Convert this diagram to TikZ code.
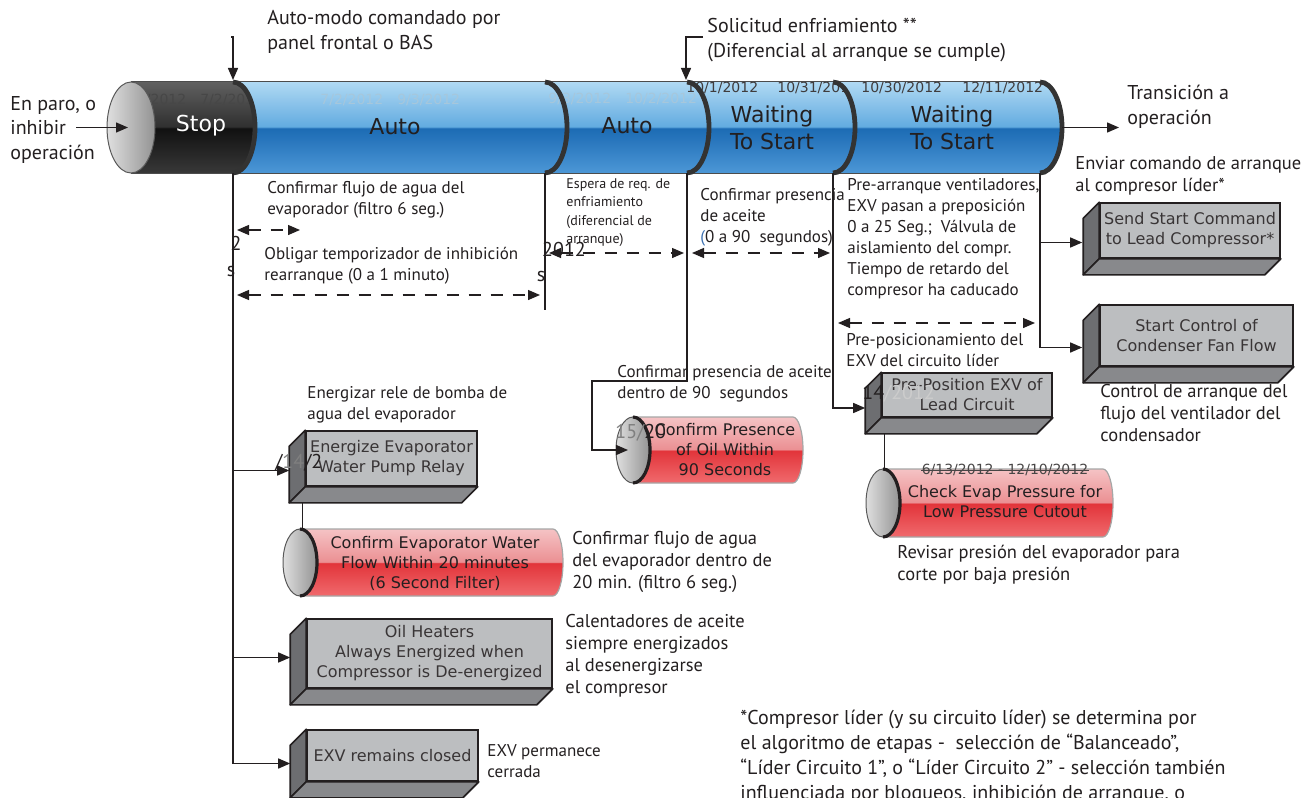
\documentclass[tikz,border=0pt]{standalone}
\usepackage{fontspec}
\setmainfont{PT Sans}
\newfontfamily\boxfont{DejaVu Sans}
\usetikzlibrary{arrows.meta,calc}

\definecolor{ink}{HTML}{231F20}
\definecolor{blA}{HTML}{B0D9F3}
\definecolor{blB}{HTML}{62ABE0}
\definecolor{blC}{HTML}{1C6BB4}
\definecolor{blD}{HTML}{4C97D6}
\definecolor{bkA}{HTML}{606060}
\definecolor{bkB}{HTML}{303030}
\definecolor{bkC}{HTML}{111111}
\definecolor{bkD}{HTML}{383838}
\definecolor{rdA}{HTML}{F5C3C5}
\definecolor{rdB}{HTML}{EB9093}
\definecolor{rdC}{HTML}{E2343A}
\definecolor{rdD}{HTML}{F06A6D}
\definecolor{boxfront}{HTML}{BCBEC0}
\definecolor{boxside}{HTML}{6D6E71}
\definecolor{boxbot}{HTML}{88898C}
\definecolor{parenblue}{HTML}{3A6FB0}

\pgfdeclareverticalshading{tubeblue}{100bp}{color(0bp)=(blD); color(25bp)=(blD); color(49.5bp)=(blC); color(50.5bp)=(blB); color(75bp)=(blA); color(100bp)=(blA)}
\pgfdeclareverticalshading{tubeblack}{100bp}{color(0bp)=(bkD); color(25bp)=(bkD); color(49.5bp)=(bkC); color(50.5bp)=(bkB); color(75bp)=(bkA); color(100bp)=(bkA)}
\pgfdeclareverticalshading{tubered}{100bp}{color(0bp)=(rdD); color(25bp)=(rdD); color(49.5bp)=(rdC); color(50.5bp)=(rdB); color(75bp)=(rdA); color(100bp)=(rdA)}

\newcommand\fbig{\fontsize{10}{12.25}\selectfont}
\newcommand\fmid{\fontsize{8.5}{10.5}\selectfont}
\newcommand\fwide{\fontsize{9.25}{11}\selectfont}
\newcommand\fsmall{\fontsize{7}{9.25}\selectfont}
\newcommand\fnote{\fontsize{10}{12.5}\selectfont}

\tikzset{
  note/.style={anchor=north west, inner sep=0pt, align=left, font=\fmid, text=ink},
  tubetxt/.style={font=\boxfont\fontsize{11}{13.5}\selectfont, align=center, inner sep=0pt, text=ink},
  bevel/.style={draw=ink, line width=0.8pt, fill=boxfront, font=\boxfont\fontsize{8}{10}\selectfont,
    text=ink!90, align=center, inner sep=0pt},
  cyltxt/.style={font=\boxfont\fontsize{8}{10}\selectfont, text=ink, align=center, inner sep=0pt},
  link/.style={draw=ink, line width=0.7pt},
  arr/.style={link, -{Triangle[length=6pt,width=5pt]}},
  span/.style={draw=ink, line width=0.65pt, dash pattern=on 6pt off 5pt,
    {Triangle[length=6pt,width=5pt]}-{Triangle[length=6pt,width=5pt]}},
  date/.style={font=\boxfont\fontsize{7}{8}\selectfont, text=gray!30!ink, inner sep=0pt},
  faint/.style={date, text=blA!80!gray},
  stray/.style={font=\fbig, inner sep=0pt, text=ink}
}

\newcommand\tubeseg[3]{%
  \shade[shading=#3] (#1,82) -- (#2,82) arc[start angle=-90,end angle=90,x radius=22,y radius=45.5]
    -- (#1,173) arc[start angle=90,end angle=-90,x radius=22,y radius=45.5] -- cycle;}

\newcommand\redtube[4]{%
  \pgfmathsetmacro\rry{(#4-#3)/2}
  \shade[shading=tubered, draw=gray!70, line width=0.6pt] (#1,#3) -- (#2-10,#3)
    arc[start angle=-90,end angle=90,x radius=10,y radius=\rry] -- (#1,#4) -- cycle;
  \shade[left color=gray!25, right color=gray!85, draw=gray!70!black, line width=0.5pt]
    (#1,#3+\rry) ellipse[x radius=17,y radius=\rry];
  \draw[line width=1.6pt, ink] (#1,#3) arc[start angle=-90,end angle=90,x radius=17,y radius=\rry];}

\newcommand\bevelfaces[1]{%
  \filldraw[fill=boxside, draw=ink, line width=0.8pt, line join=round] (#1.north west) -- ++(-16,16)
    -- ($(#1.south west)+(-16,16)$) -- (#1.south west) -- cycle;
  \filldraw[fill=boxbot, draw=ink, line width=0.8pt, line join=round] (#1.south west)
    -- ($(#1.south west)+(-16,16)$) -- ($(#1.south east)+(-16,16)$) -- (#1.south east) -- cycle;}

\begin{document}
\begin{tikzpicture}[x=0.5pt, y=-0.5pt]
  \useasboundingbox (0,0) rectangle (1315,797);

  \tubeseg{131}{233}{tubeblack}
  \node[date, text=black!72, anchor=west] (ds) at (123,100) {1/1/2012\quad 7/2/2012};
  \tubeseg{233}{545}{tubeblue}
  \node[faint, anchor=west] (da) at (320,100) {7/2/2012\quad 9/3/2012};
  \tubeseg{545}{687}{tubeblue}
  \node[faint, anchor=west] (db) at (548,99) {9/3/2012\quad 10/2/2012};
  \tubeseg{687}{833}{tubeblue}
  \node[date, anchor=west] (d1) at (686,88) {10/1/2012};
  \node[date, anchor=west] (d2) at (777,88) {10/31/2012};
  \tubeseg{833}{1040}{tubeblue}
  \node[date, anchor=west] (d3) at (861,88) {10/30/2012};
  \node[date, anchor=west] (d4) at (962,88) {12/11/2012};

  \draw[gray!60!black, line width=0.5pt] (131,82) -- (1040,82) (131,173) -- (1040,173);
  \shade[left color=gray!25, right color=gray!85, draw=gray!70!black, line width=0.5pt]
    (131,127.5) ellipse[x radius=24, y radius=45.5];
  \foreach \b in {233,545,687,833,1040}
    \draw[line width=2.4pt, black!80] (\b,82) arc[start angle=-90,end angle=90,x radius=22,y radius=45.5];

  \node[tubetxt, text=white] (stop) at (201,126) {Stop};
  \node[tubetxt] (auto1) at (395,127) {Auto};
  \node[tubetxt] (auto2) at (627,126) {Auto};
  \node[tubetxt] (wait1) at (772,128) {Waiting\\To Start};
  \node[tubetxt] (wait2) at (952,128) {Waiting\\To Start};

  \coordinate (capc) at (128,127.5);
  \coordinate (tubeend) at (1062,127.5);
  \coordinate (b1) at (233,173);
  \coordinate (b2) at (545,173);
  \coordinate (b3) at (687,173);
  \coordinate (b4) at (833,173);
  \coordinate (b5) at (1040,173);
  \coordinate (b2end) at (545,310);
  \coordinate (amtop) at (233,80);
  \coordinate (sotop) at (686,80);

  \node[note, font=\fbig] (enparo) at (10,96) {En paro, o\\inhibir\\operación};
  \node[note, font=\fbig] (automodo) at (267,10) {Auto-modo comandado por\\panel frontal o BAS};
  \node[note, font=\fbig] (solicitud) at (707,18) {Solicitud enfriamiento **\\(Diferencial al arranque se cumple)};
  \node[note, font=\fbig] (transicion) at (1127,85) {Transición a\\operación};
  \coordinate (stopin) at (76,127.5);
  \draw[arr] (stopin) -- (capc);
  \draw[arr] ([xshift=-18]automodo.west |- 0,37) -| (amtop);
  \draw[arr] ([xshift=-2]solicitud.west |- 0,37) -| (sotop);
  \draw[arr] (tubeend) -- ([xshift=-4]transicion.west |- tubeend);

  \node[note] (confflujo) at (267,181) {Confirmar flujo de agua del\\evaporador (filtro 6 seg.)};
  \node[note] (obligar) at (264,247) {Obligar temporizador de inhibición\\rearranque (0 a 1 minuto)};
  \node[note, font=\fsmall] (espera) at (566,178) {Espera de req. de\\enfriamiento\\(diferencial de\\arranque)};
  \node[note] (confpres) at (700,188) {Confirmar presencia\\de aceite\\\textcolor{parenblue}{(}0 a 90~ segundos)};
  \node[note] (prearr) at (847,178) {Pre-arranque ventiladores,\\EXV pasan a preposición\\0 a 25 Seg.;~ Válvula de\\aislamiento del compr.\\Tiempo de retardo del\\compresor ha caducado};
  \node[note] (prepos) at (846,333) {Pre-posicionamiento del\\EXV del circuito líder};
  \node[note, font=\fwide] (enviar) at (1075,156) {Enviar comando de arranque\\al compresor líder*};
  \node[note, font=\fwide] (control) at (1100,384) {Control de arranque del\\flujo del ventilador del\\condensador};
  \node[note] (energizar) at (307,386) {Energizar rele de bomba de\\agua del evaporador};
  \node[note] (confoil) at (617,365) {Confirmar presencia de aceite\\dentro de 90~ segundos};
  \node[note, font=\fwide] (conf20) at (572,531) {Confirmar flujo de agua\\del evaporador dentro de\\20 min. (filtro 6 seg.)};
  \node[note, font=\fwide] (revisar) at (897,545) {Revisar presión del evaporador para\\corte por baja presión};
  \node[note, font=\fwide] (calent) at (565,614) {Calentadores de aceite\\siempre energizados\\al desenergizarse\\el compresor};
  \node[note] (exvperm) at (487,744) {EXV permanece\\cerrada};
  \node[note, font=\fnote] (footnote) at (740,710) {*Compresor líder (y su circuito líder) se determina por\\el algoritmo de etapas -~ selección de “Balanceado”,\\“Líder Circuito 1”, o “Líder Circuito 2” - selección también\\influenciada por bloqueos, inhibición de arranque, o};

  \draw[span] (237,230) -- (300,230);
  \draw[span] (237,295) -- (540,295);
  \draw[span] (549,253) -- (684,253);
  \draw[span] (692,253) -- (830,253);
  \draw[span] (838,323) -- (1035,323);

  \redtube{300}{563}{529}{596}
  \node[cyltxt] (rc1) at (435,563) {Confirm Evaporator Water\\Flow Within 20 minutes\\(6 Second Filter)};
  \redtube{633}{803}{417}{483}
  \node[cyltxt] (rc2) at (725,450) {Confirm Presence\\of Oil Within\\90 Seconds};
  \redtube{883}{1113}{469}{537}
  \node[cyltxt] (rc3) at (1005,502) {Check Evap Pressure for\\Low Pressure Cutout};
  \node[date, text=gray!40!ink] (dt) at (1005,470) {6/13/2012 - 12/10/2012};
  \draw[gray!40!ink, line width=0.5pt] (dt.west) -- (dt.east);

  \node[bevel, minimum width=85.5pt, minimum height=27.5pt] (e1) at (391.5,458.5) {Energize Evaporator\\Water Pump Relay};
  \bevelfaces{e1}
  \node[bevel, minimum width=122.5pt, minimum height=34.5pt] (oh) at (429.5,653.5) {Oil Heaters\\Always Energized when\\Compressor is De-energized};
  \bevelfaces{oh}
  \node[bevel, minimum width=85.5pt, minimum height=25.5pt] (ex) at (392.5,755.5) {EXV remains closed};
  \bevelfaces{ex}
  \node[bevel, minimum width=90pt, minimum height=27.5pt] (ss) at (1190,230.5) {Send Start Command\\to Lead Compressor*};
  \bevelfaces{ss}
  \node[bevel, minimum width=96.5pt, minimum height=30.5pt] (sc) at (1196.5,335.5) {Start Control of\\Condenser Fan Flow};
  \bevelfaces{sc}
  \node[bevel, minimum width=85pt, minimum height=22pt] (pp) at (967,395) {Pre-Position EXV of\\Lead Circuit};
  \bevelfaces{pp}

  \coordinate (e1in) at ($(e1.west)+(-16,12)$);
  \coordinate (ohin) at ($(oh.west)+(-16,4)$);
  \coordinate (exin) at ($(ex.west)+(-16,8)$);
  \coordinate (ssin) at ($(ss.west)+(-17,12)$);
  \coordinate (scin) at ($(sc.west)+(-17,12)$);
  \coordinate (ppin) at ($(pp.west)+(-16,13)$);
  \coordinate (e1bot) at ($(e1.south west)+(-3,16)$);
  \coordinate (ppbot) at ($(pp.south west)+(3,16)$);
  \coordinate (rc1top) at (e1bot |- 0,529);
  \coordinate (rc3top) at (ppbot |- 0,469);
  \coordinate (oilbend) at (592,381);
  \coordinate (rc2in) at (628,450);

  \draw[link] (b1) -- (b1 |- exin);
  \draw[arr] (b1 |- e1in) -- (e1in);
  \draw[arr] (b1 |- ohin) -- (ohin);
  \draw[arr] (b1 |- exin) -- (exin);
  \draw[link] (b2) -- (b2end);
  \draw[arr] (b3) |- (oilbend) |- (rc2in);
  \draw[arr] (b4) |- (ppin);
  \draw[link] (b5) -- (b5 |- scin);
  \draw[arr] (b5 |- ssin) -- (ssin);
  \draw[arr] (b5 |- scin) -- (scin);
  \draw[link] (e1bot) -- (rc1top);
  \draw[link] (ppbot) -- (rc3top);

  \node[stray] (s1) at (236,243) {2};
  \node[stray] (s2) at (231,271) {s};
  \node[stray] (s3) at (564,249) {2012};
  \node[stray] (s4) at (541,276) {s};
  \node[stray, anchor=west] (s5) at (275,463) {/\textcolor{gray}{14}/2};
  \node[stray, anchor=west] (s6) at (615,433) {\textcolor{gray}{15/}20};
  \node[stray, anchor=west] (s7) at (862,394) {14\textcolor{gray!40}{/2012}};
\end{tikzpicture}
\end{document}
